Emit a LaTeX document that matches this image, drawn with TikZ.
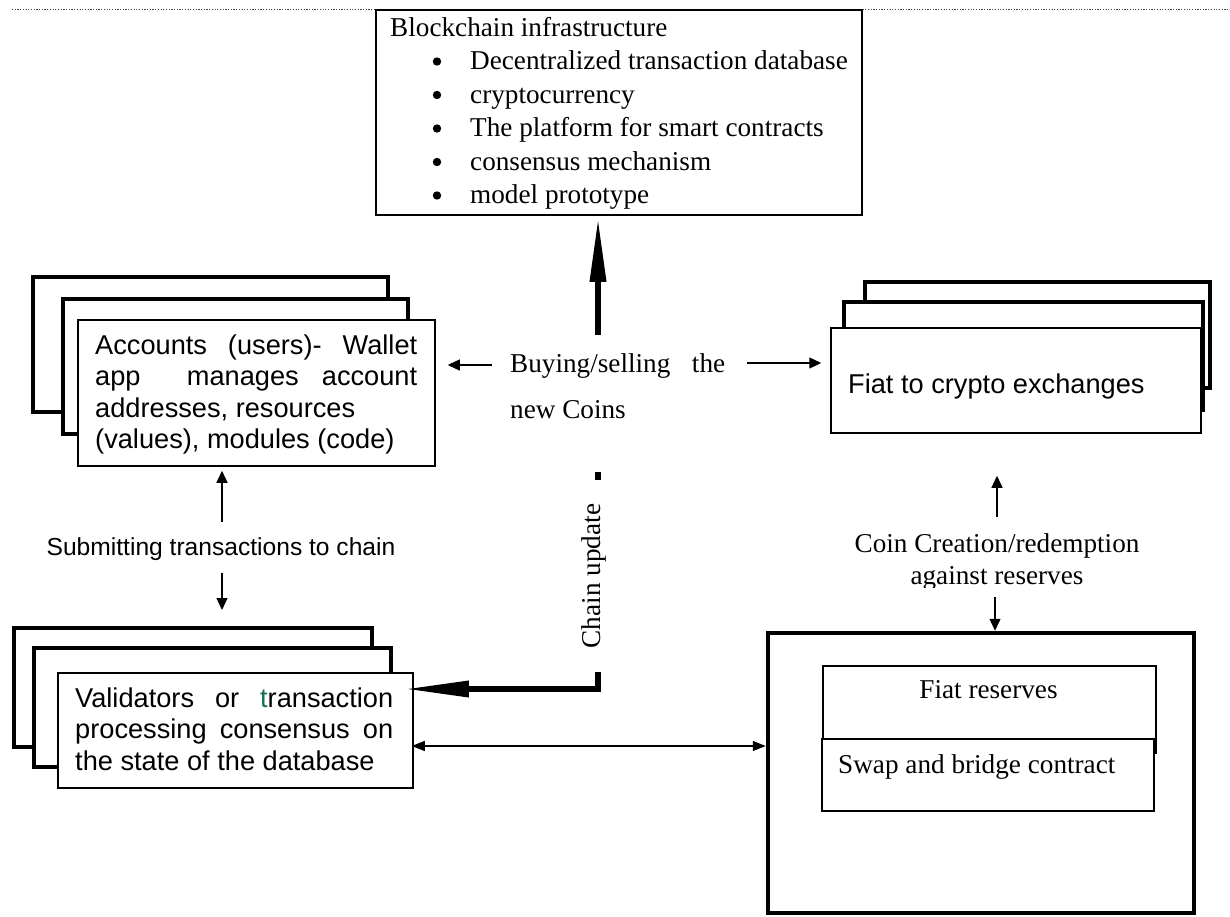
\documentclass[tikz,border=0pt]{standalone}
\usepackage{fontspec}
\setmainfont{Liberation Serif}
\setsansfont{Liberation Sans}
\usetikzlibrary{arrows.meta}
\definecolor{tealt}{RGB}{20,112,88}
\begin{document}
\begin{tikzpicture}[x=1pt,y=-1pt,
  serif/.style={font=\fontsize{27.2pt}{33.5pt}\selectfont, inner sep=0pt},
  sans/.style={font=\sffamily\fontsize{27.2pt}{31.5pt}\selectfont, inner sep=0pt},
  thinbox/.style={draw, line width=1.5pt, fill=white, inner sep=0pt},
  thickbox/.style={draw, line width=4pt, fill=white, inner sep=0pt},
  sarrow/.style={line width=1.3pt, -{Triangle[length=12pt,width=11pt]}},
  darrow/.style={line width=1.3pt, {Triangle[length=13pt,width=10pt]}-{Triangle[length=13pt,width=10pt]}},
  barrow/.style={line width=6.5pt, -{Triangle[length=66pt,width=15pt]}},
  dotline/.style={line width=1.3pt, dash pattern=on 1.2pt off 1.5pt, black!75}
]
\useasboundingbox (0,0) rectangle (1230,917);

% page rule along the top
\draw[dotline] (12,9.5) -- (1230,9.5);

% blockchain infrastructure box
\node[thinbox, minimum width=486pt, minimum height=205pt] (top) at (619,112.5) {};
\node[serif, anchor=base west] (bctitle) at (390,37) {Blockchain infrastructure};
\foreach \txt [count=\i] in {Decentralized transaction database, cryptocurrency,
  The platform for smart contracts, consensus mechanism, model prototype} {
  \fill ({437},{61.5+33.5*(\i-1)}) circle (4.2pt);
  \node[serif, anchor=base west] (item\i) at ({470},{70+33.5*(\i-1)}) {\txt};
}

% accounts stack
\node[thickbox, minimum width=355pt, minimum height=135pt] (accB) at (210.5,344.5) {};
\node[thickbox, minimum width=345pt, minimum height=135pt] (accM) at (235.5,366.5) {};
\node[thinbox, minimum width=357pt, minimum height=146pt] (accF) at (256.5,393) {};
\node[sans, anchor=base west] (acctext) at (95,354) {\parbox[t]{322pt}{%
  \makebox[322pt][s]{Accounts (users)- Wallet}\par
  \makebox[322pt][s]{app\ \ manages account}\par
  addresses, resources\par
  (values), modules (code)}};

% exchanges stack
\node[thickbox, minimum width=345pt, minimum height=106pt] (exB) at (1037.5,335) {};
\node[thickbox, minimum width=359pt, minimum height=108pt] (exM) at (1023.5,356) {};
\node[thinbox, minimum width=370pt, minimum height=105pt] (exF) at (1016,380.5) {};
\node[sans, anchor=base west] (extext) at (848,393) {Fiat to crypto exchanges};

% validators stack
\node[thickbox, minimum width=358pt, minimum height=119pt] (valB) at (193,687.5) {};
\node[thickbox, minimum width=357pt, minimum height=119pt] (valM) at (212.5,707.5) {};
\node[thinbox, minimum width=355pt, minimum height=115pt] (valF) at (235.5,730.5) {};
\node[sans, anchor=base west] (valtext) at (75,707) {\parbox[t]{318pt}{%
  \makebox[318pt][s]{Validators or \textcolor{tealt}{t}ransaction}\par
  \makebox[318pt][s]{processing consensus on}\par
  the state of the database}};

% reserves
\node[draw, line width=4.5pt, inner sep=0pt, minimum width=426pt, minimum height=280pt] (big) at (981,773) {};
\node[thinbox, minimum width=333pt, minimum height=87pt] (fiatres) at (989.5,709.5) {};
\node[thinbox, minimum width=332pt, minimum height=72pt] (swap) at (988,775) {};
\node[serif, anchor=base] (fiattxt) at (988.5,698) {Fiat reserves};
\node[serif, anchor=base west] (swaptxt) at (838,773) {Swap and bridge contract};

% labels
\node[serif, anchor=base west] (buy1) at (510,372) {\makebox[215pt][s]{Buying/selling the}};
\node[serif, anchor=base west] (buy2) at (510,418) {new Coins};
\node[sans, font=\sffamily\fontsize{24.6pt}{28pt}\selectfont, anchor=base] (sub) at (221,555) {Submitting transactions to chain};
\node[serif, anchor=base] (coin1) at (997,552) {Coin Creation/redemption};
\begin{scope}
  \clip (900,560) rectangle (1100,587);
  \node[serif, anchor=base] (coin2) at (997,584) {against reserves};
\end{scope}

% helper levels for connectors
\coordinate (yb) at (0,365);
\coordinate (yb2) at (0,363);
\coordinate (yv) at (0,746);
\coordinate (ax) at (222,0);
\coordinate (cx) at (997,0);
\coordinate (cx2) at (995,0);
\coordinate (cu) at (598,335);
\coordinate (cd) at (598,472);
\coordinate (cb) at (598,689);

% connectors
\draw[barrow] (cu) -- (cu |- top.south);
\draw[barrow, shorten >=-11pt] (cd) -- (cb) -- (cb -| valF.east);
\node[serif, rotate=90, fill=white, inner xsep=23.5pt, inner ysep=4pt] (chainup) at (594,576) {Chain update};

\draw[sarrow, shorten <=18pt, shorten >=12pt] (buy1.west |- yb) -- (accF.east |- yb);
\draw[sarrow, shorten <=22pt, shorten >=9pt] (buy1.east |- yb2) -- (exF.west |- yb2);
\draw[sarrow, shorten <=15pt, shorten >=4pt] (ax |- sub.north) -- (ax |- accF.south);
\draw[sarrow, shorten <=13pt, shorten >=16pt] (ax |- sub.south) -- (ax |- valB.north);
\draw[sarrow, shorten <=16pt, shorten >=42pt] (cx |- coin1.north) -- (cx |- exF.south);
\draw[sarrow, shorten <=7pt] (cx2 |- coin2.south) -- (cx2 |- big.north);
\draw[darrow, shorten <=-2pt] (valF.east |- yv) -- (big.west |- yv);
\end{tikzpicture}
\end{document}
